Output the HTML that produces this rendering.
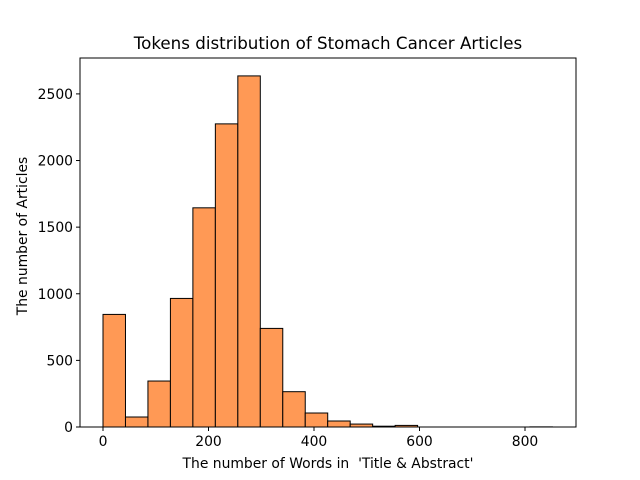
<!DOCTYPE html>
<html><head><meta charset="utf-8"><style>body{margin:0;background:#fff}svg{display:block;font-family:"DejaVu Sans","Liberation Sans",sans-serif}</style></head>
<body>
<svg id="chart" width="640" height="480">
<rect x="0" y="0" width="640" height="480" fill="#fff"/>
<text x="328" y="49" text-anchor="middle" font-size="16.7">Tokens distribution of Stomach Cancer Articles</text>
<g id="bars"></g>
<g id="axes"></g>
<text x="328" y="468" text-anchor="middle" font-size="13.9" style="white-space:pre">The number of Words in  'Title &amp; Abstract'</text>
<text transform="translate(27,236) rotate(-90)" text-anchor="middle" font-size="13.9">The number of Articles</text>
</svg>
<script>
const binStart = 0;
const binWidth = 42.6;
const counts = [845, 75, 345, 965, 1645, 2275, 2635, 740, 265, 105, 45, 22, 6, 12, 0, 0, 0, 0, 0, 1];
const xTicks = [0, 200, 400, 600, 800];
const yTicks = [0, 500, 1000, 1500, 2000, 2500];
const L=80,R=576,T=58,B=427;
const xs=v=>103+v*0.5275;
const ys=v=>B-v*0.13324;
const ns='http://www.w3.org/2000/svg';
const bars=document.getElementById('bars'), axes=document.getElementById('axes');
function mk(tag,attrs,parent){const e=document.createElementNS(ns,tag);for(const k in attrs)e.setAttribute(k,attrs[k]);parent.appendChild(e);return e;}
counts.forEach((c,i)=>{
  const x0=xs(binStart+i*binWidth), x1=xs(binStart+(i+1)*binWidth);
  const r=mk('rect',{x:x0,y:ys(c),width:x1-x0,height:B-ys(c),fill:'#ff9955',stroke:'#000','stroke-width':1},bars);
  
  
});
const frame=mk('rect',{x:L,y:T,width:R-L,height:B-T,fill:'none',stroke:'#000','stroke-width':1},axes);


xTicks.forEach(v=>{
  mk('line',{x1:xs(v),x2:xs(v),y1:B,y2:B+4,stroke:'#000'},axes);
  const t=mk('text',{x:xs(v),y:B+19,'text-anchor':'middle','font-size':13.9},axes);
  t.textContent=v;
  
  
});
yTicks.forEach(v=>{
  mk('line',{x1:L-4,x2:L,y1:ys(v),y2:ys(v),stroke:'#000'},axes);
  const t=mk('text',{x:L-7,y:ys(v)+5,'text-anchor':'end','font-size':13.9},axes);
  t.textContent=v;
  
  
});
</script>
</body></html>
